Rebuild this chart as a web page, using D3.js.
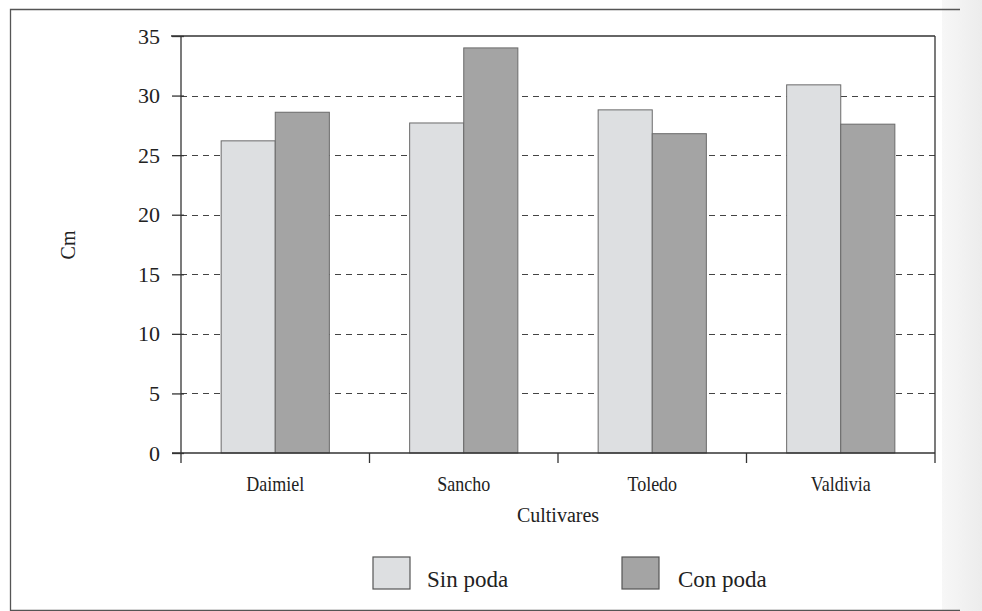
<!DOCTYPE html>
<html>
<head>
<meta charset="utf-8">
<script src="https://cdn.jsdelivr.net/npm/d3@7"></script>
<style>
  body { margin: 0; background: #fff; }
  text { font-family: "Liberation Serif", "DejaVu Serif", serif; fill: #222; }
</style>
</head>
<body>
<div id="chart"></div>
<script>
// Chart data
const cultivares = ["Daimiel", "Sancho", "Toledo", "Valdivia"];
const series = ["Sin poda", "Con poda"];
const sinPoda = [26.2, 27.7, 28.8, 30.9];
const conPoda = [28.6, 34.0, 26.8, 27.6];
const yTicks = [0, 5, 10, 15, 20, 25, 30, 35];

const width = 982, height = 611;
const colors = { "Sin poda": "#dddfe1", "Con poda": "#a4a4a4" };

const svg = d3.select("#chart").append("svg")
    .attr("width", width)
    .attr("height", height);

// Scan-like grey strip on the right edge
const grad = svg.append("defs").append("linearGradient")
    .attr("id", "strip").attr("x1", 0).attr("x2", 1);
grad.append("stop").attr("offset", 0).attr("stop-color", "#f7f7f7");
grad.append("stop").attr("offset", 1).attr("stop-color", "#ececec");
svg.append("rect")
    .attr("x", 942).attr("y", 0).attr("width", 40).attr("height", height)
    .attr("fill", "url(#strip)");

// Outer frame (left, top, bottom)
svg.append("path")
    .attr("d", "M960,9.5H10.5V610.5H960")
    .attr("fill", "none")
    .attr("stroke", "#555")
    .attr("stroke-width", 1.3);

// Plot area
const plot = { left: 181, right: 935, top: 36, bottom: 453 };

const x = d3.scaleBand()
    .domain(cultivares)
    .range([plot.left, plot.right])
    .padding(0);

const groupHalf = x.bandwidth() * 0.287;
const xSub = d3.scaleBand()
    .domain(series)
    .range([x.bandwidth() / 2 - groupHalf, x.bandwidth() / 2 + groupHalf])
    .padding(0);

const y = d3.scaleLinear()
    .domain([0, 35])
    .range([plot.bottom, plot.top]);

// Dashed gridlines (below bars)
svg.append("g")
    .selectAll("line")
    .data(yTicks.filter(t => t > 0 && t < 35))
    .join("line")
    .attr("x1", plot.left)
    .attr("x2", plot.right)
    .attr("y1", d => Math.round(y(d)) + 0.5)
    .attr("y2", d => Math.round(y(d)) + 0.5)
    .attr("stroke", "#444")
    .attr("stroke-width", 1.2)
    .attr("stroke-dasharray", "6,5");

// Bars
const rows = cultivares.map((c, i) => ({ cultivar: c, values: [
    { key: "Sin poda", value: sinPoda[i] },
    { key: "Con poda", value: conPoda[i] }
] }));

svg.append("g")
    .selectAll("g")
    .data(rows)
    .join("g")
    .attr("transform", d => `translate(${x(d.cultivar)},0)`)
    .selectAll("rect")
    .data(d => d.values)
    .join("rect")
    .attr("x", d => xSub(d.key))
    .attr("y", d => y(d.value))
    .attr("width", xSub.bandwidth())
    .attr("height", d => y(0) - y(d.value))
    .attr("fill", d => colors[d.key])
    .attr("stroke", "#6a6a6a")
    .attr("stroke-width", 1);

// Top border and right border
svg.append("line")
    .attr("x1", plot.left - 10).attr("x2", plot.right)
    .attr("y1", y(35)).attr("y2", y(35))
    .attr("stroke", "#333").attr("stroke-width", 1.3);
svg.append("line")
    .attr("x1", plot.right).attr("x2", plot.right)
    .attr("y1", y(35)).attr("y2", plot.bottom + 10)
    .attr("stroke", "#333").attr("stroke-width", 1.3);

// Y axis
const yAxis = svg.append("g")
    .attr("transform", `translate(${plot.left},0)`)
    .call(d3.axisLeft(y).tickValues(yTicks).tickSize(9).tickPadding(12));
yAxis.select(".domain").remove();
yAxis.selectAll(".tick line").attr("stroke", "#333").attr("stroke-width", 1.3).attr("x2", -9).attr("x1", 3);
yAxis.selectAll(".tick text")
    .style("font-family", "Liberation Serif, serif")
    .style("font-size", "22px")
    .attr("fill", "#222");
svg.append("line")
    .attr("x1", plot.left).attr("x2", plot.left)
    .attr("y1", y(35)).attr("y2", plot.bottom + 10)
    .attr("stroke", "#333").attr("stroke-width", 1.3);

// X axis baseline
svg.append("line")
    .attr("x1", plot.left - 9).attr("x2", plot.right)
    .attr("y1", plot.bottom).attr("y2", plot.bottom)
    .attr("stroke", "#333").attr("stroke-width", 1.3);

// X boundary ticks
svg.append("g")
    .selectAll("line")
    .data(cultivares.slice(1))
    .join("line")
    .attr("x1", d => x(d)).attr("x2", d => x(d))
    .attr("y1", plot.bottom).attr("y2", plot.bottom + 10)
    .attr("stroke", "#333").attr("stroke-width", 1.3);

// X labels
const xAxis = svg.append("g")
    .attr("transform", `translate(0,${plot.bottom})`)
    .call(d3.axisBottom(x).tickSize(0).tickPadding(24));
xAxis.select(".domain").remove();
xAxis.selectAll(".tick text")
    .style("font-family", "Liberation Serif, serif")
    .style("font-size", "20px")
    .attr("fill", "#222")
    .attr("transform", "scale(0.9,1)");

// Axis titles
svg.append("text")
    .attr("x", (plot.left + plot.right) / 2)
    .attr("y", 522)
    .attr("text-anchor", "middle")
    .style("font-size", "20px")
    .text("Cultivares");

svg.append("text")
    .attr("transform", "translate(75,245) rotate(-90)")
    .attr("text-anchor", "middle")
    .style("font-size", "20px")
    .text("Cm");

// Legend
const legendPos = [{ x: 373, tx: 427 }, { x: 622, tx: 678 }];
const legend = svg.append("g")
    .selectAll("g")
    .data(series)
    .join("g")
    .attr("transform", (d, i) => `translate(${legendPos[i].x},557)`);
legend.append("rect")
    .attr("width", 37).attr("height", 32)
    .attr("fill", d => colors[d])
    .attr("stroke", "#555").attr("stroke-width", 1.2);
legend.append("text")
    .attr("x", (d, i) => legendPos[i].tx - legendPos[i].x)
    .attr("y", 30)
    .style("font-size", "23px")
    .text(d => d);
</script>
</body>
</html>
